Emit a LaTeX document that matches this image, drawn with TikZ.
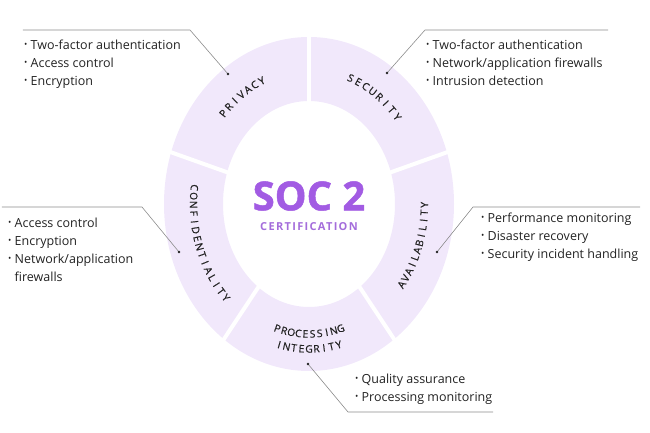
\documentclass[tikz,border=0pt]{standalone}
\usepackage{fontspec}
\setmainfont{Open Sans}
\usetikzlibrary{positioning}

\definecolor{ringlilac}{HTML}{F1E8FB}
\definecolor{socpurple}{HTML}{A25BE3}
\definecolor{certpurple}{HTML}{A46DDB}
\definecolor{leadgray}{HTML}{8C8C8C}
\definecolor{inkgray}{HTML}{222222}

% small bullet for the lists
\newcommand{\bul}{\makebox[6.5pt][l]{\raisebox{0.3ex}{\scalebox{0.7}{\textbullet}}}}
% letters along the ring: #1 count, #2 letters, #3 mid angle, #4 step, #5 rx, #6 ry, #7 sense, #8 name
\newcommand{\arctext}[8]{%
    \foreach \ch [count=\i] in {#2} {
        \pgfmathsetmacro{\angl}{#3 + #7*(\i-(#1+1)/2)*#4}
        \pgfmathsetmacro{\rot}{atan2(#7*#6*cos(\angl), -#7*#5*sin(\angl))}
        \node[ringtext, rotate=\rot] (#8-\i) at ({#5*cos(\angl)}, {#6*sin(\angl)}) {\ch};
    }}

\begin{document}
\begin{tikzpicture}[x=1pt, y=1pt,
        leader/.style={draw=leadgray, line width=0.6pt},
        gapline/.style={draw=white, line width=4pt},
        ringtext/.style={inner sep=0pt, text height=7.3pt, text depth=0pt,
            font=\fontsize{10.3}{11}\selectfont\addfontfeature{FakeBold=0.6}, text=inkgray},
        bullets/.style={align=left, inner sep=0pt, anchor=north west,
            font=\fontsize{12.5}{18}\selectfont, text=inkgray}]
    \useasboundingbox (-309,-229) rectangle (341,204);

    % ring and its five gaps
    \fill[ringlilac, even odd rule] (0,0) ellipse [x radius=145pt, y radius=167pt]
        (0,0) ellipse [x radius=86pt, y radius=103pt];
    \foreach \a in {90, 162, 234, 306, 18} {
        \draw[gapline] ({80*cos(\a)}, {96*sin(\a)}) -- ({152*cos(\a)}, {175*sin(\a)});
    }

    % labels on the ring
    \arctext{7}{P,R,I,V,A,C,Y}{126}{3.95}{115.5}{135}{-1}{privacy}
    \arctext{8}{S,E,C,U,R,I,T,Y}{54.5}{4.1}{115.5}{135}{-1}{security}
    \arctext{15}{C,O,N,F,I,D,E,N,T,I,A,L,I,T,Y}{198.5}{3.64}{115.5}{135}{1}{confid}
    \arctext{12}{A,V,A,I,L,A,B,I,L,I,T,Y}{-18.5}{3.3}{115.5}{135}{1}{avail}
    \arctext{10}{P,R,O,C,E,S,S,I,N,G}{270}{3.7}{110.4}{130}{1}{proc}
    \arctext{9}{I,N,T,E,G,R,I,T,Y}{270}{3.5}{123}{145}{1}{integ}

    % centre title
    \node[font=\fontsize{40}{40}\selectfont\bfseries\addfontfeature{FakeBold=1.2}, text=socpurple] (soc) at (0,8) {SOC 2};
    \node[font=\fontsize{11}{11}\selectfont\bfseries\addfontfeature{LetterSpace=12}, text=certpurple] (cert) at (0,-23) {CERTIFICATION};

    % leader lines
    \coordinate (privdot) at (-81,130);
    \coordinate (privknee) at (-119,174);
    \coordinate (privend) at (-286,174);
    \coordinate (secdot) at (78,131);
    \coordinate (secknee) at (116,174);
    \coordinate (secend) at (299,174);
    \coordinate (confdot) at (-130,-48);
    \coordinate (confknee) at (-167,-3);
    \coordinate (confend) at (-307,-3);
    \coordinate (availdot) at (128,-48);
    \coordinate (availknee) at (164,-3);
    \coordinate (availend) at (331,-3);
    \coordinate (procdot) at (-1,-160);
    \coordinate (procknee) at (39,-208);
    \coordinate (procend) at (184,-208);
    \draw[leader] (privdot) -- (privknee) -- (privend);
    \draw[leader] (secdot) -- (secknee) -- (secend);
    \draw[leader] (confdot) -- (confknee) -- (confend);
    \draw[leader] (availdot) -- (availknee) -- (availend);
    \draw[leader] (procdot) -- (procknee) -- (procend);
    \foreach \d in {privdot, secdot, confdot, availdot, procdot} {
        \fill[inkgray] (\d) circle (1.3pt);
    }

    % lists
    \node[bullets] (privlist) at (-285,167) {\strut\bul Two-factor authentication\\ \bul Access control\\ \bul Encryption};
    \node[bullets] (seclist) at (117,167) {\strut\bul Two-factor authentication\\ \bul Network/application firewalls\\ \bul Intrusion detection};
    \node[bullets] (conflist) at (-301,-11) {\strut\bul Access control\\ \bul Encryption\\ \bul Network/application\\ \hspace*{6.5pt}firewalls};
    \node[bullets] (availlist) at (172,-6) {\strut\bul Performance monitoring\\ \bul Disaster recovery\\ \bul Security incident handling};
    \node[bullets] (proclist) at (46,-167) {\strut\bul Quality assurance\\ \bul Processing monitoring};
\end{tikzpicture}
\end{document}
